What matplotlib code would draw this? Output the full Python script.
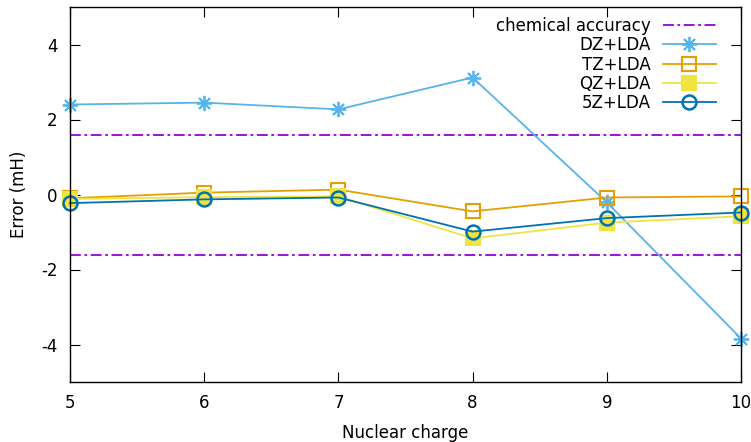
import matplotlib
matplotlib.use("Agg")
import matplotlib.pyplot as plt

plt.rcParams['font.family'] = ['DejaVu Sans']
plt.rcParams['axes.unicode_minus'] = False

Z = [5, 6, 7, 8, 9, 10]
chem_acc = 1.6
dz = [2.40, 2.45, 2.27, 3.12, -0.21, -3.84]
tz = [-0.10, 0.05, 0.13, -0.45, -0.08, -0.05]
qz = [-0.12, -0.07, -0.05, -1.17, -0.75, -0.58]
fz = [-0.23, -0.13, -0.08, -0.99, -0.63, -0.48]
xticks = [5, 6, 7, 8, 9, 10]
yticks = [-4, -2, 0, 2, 4]

fig = plt.figure(figsize=(7.51, 4.42), dpi=100)
ax = fig.add_axes([70/751, 1-382/442, 671/751, 375/442])

purple = '#9400d3'
ax.plot([Z[0], Z[-1]], [chem_acc, chem_acc], color=purple, ls=(0, (6, 2, 1.5, 2)), lw=1.3,
        label='chemical accuracy')
ax.plot([Z[0], Z[-1]], [-chem_acc, -chem_acc], color=purple, ls=(0, (6, 2, 1.5, 2)), lw=1.3)
ax.plot(Z, dz, color='#56b4e9', lw=1.3, marker=(8, 2, 0), ms=11, mew=1.3, label='DZ+LDA', clip_on=False)
ax.plot(Z, tz, color='#e69f00', lw=1.3, marker='s', ms=10, mfc='none', mew=1.5, label='TZ+LDA', clip_on=False)
ax.plot(Z, qz, color='#f0e442', lw=1.3, marker='s', ms=10, mew=1.5, label='QZ+LDA', clip_on=False)
ax.plot(Z, fz, color='#0072b2', lw=1.3, marker='o', ms=10, mfc='none', mew=1.8, label='5Z+LDA', clip_on=False)

ax.set_xlim(5, 10)
ax.set_ylim(-5, 5)
ax.set_xticks(xticks)
ax.set_yticks(yticks)
ax.tick_params(direction='in', length=7, width=0.8, top=True, right=True, labelsize=12, pad=9)
for s in ax.spines.values():
    s.set_linewidth(1.0)
ax.set_xlabel('Nuclear charge', fontsize=12, labelpad=8)
ax.set_ylabel('Error (mH)', fontsize=12, labelpad=9)

leg = ax.legend(loc='upper right', bbox_to_anchor=(716/751, 1-17/442), bbox_transform=fig.transFigure,
                frameon=False, markerfirst=False, fontsize=12, handlelength=3.2, handletextpad=0.7,
                labelspacing=0.08, borderpad=0, borderaxespad=0)

fig.savefig('out.png', dpi=100)
